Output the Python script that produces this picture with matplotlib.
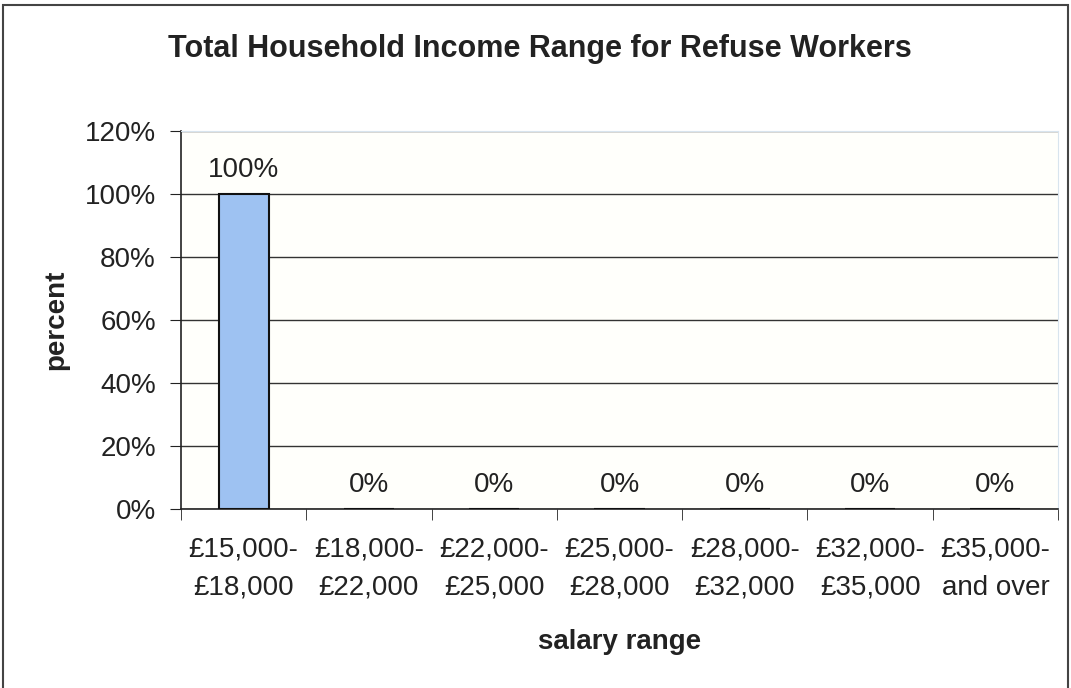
import matplotlib.pyplot as plt
import matplotlib.patches as patches

plt.rcParams['font.family'] = ['Liberation Sans', 'DejaVu Sans']

salary_ranges = ["£15,000-\n£18,000", "£18,000-\n£22,000", "£22,000-\n£25,000",
                 "£25,000-\n£28,000", "£28,000-\n£32,000", "£32,000-\n£35,000",
                 "£35,000-\nand over"]
percent = [100, 0, 0, 0, 0, 0, 0]
y_ticks = [0, 20, 40, 60, 80, 100, 120]

fig = plt.figure(figsize=(10.71, 6.88), dpi=100)
ax = fig.add_axes([0.1690, 0.2602, 0.8189, 0.5494])

# outer frame round the whole chart
fig.patches.append(patches.Rectangle((0.003, -0.01), 0.994, 1.003, transform=fig.transFigure,
                                     fill=False, edgecolor="#444444", linewidth=1.5))

x = range(len(percent))
ax.set_facecolor("#fffffb")
ax.bar(x, percent, width=0.4, color="#9ec2f2", edgecolor="#111111", linewidth=1.5, zorder=3)

for xi, v in zip(x, percent):
    ax.annotate(f"{v}%", (xi, v), xytext=(0, 8), textcoords="offset points",
                ha="center", va="bottom", fontsize=20, color="#222222")

ax.set_xlim(-0.5, len(percent) - 0.5)
ax.set_ylim(0, 120)
ax.set_yticks(y_ticks)
ax.set_yticklabels([f"{t}%" for t in y_ticks], fontsize=20, color="#222222")
ax.grid(axis="y", color="#333333", linewidth=1, zorder=0)

ax.set_xticks(list(x))
ax.set_xticklabels(salary_ranges, fontsize=20, color="#222222", linespacing=1.6)
ax.tick_params(axis="x", length=0, pad=20)
ax.set_xticks([i - 0.5 for i in range(len(percent) + 1)], minor=True)
ax.tick_params(axis="x", which="minor", length=8, direction="out", color="#222222")
ax.tick_params(axis="y", length=8, direction="out", color="#222222", pad=10)

for side in ["top", "right"]:
    ax.spines[side].set_color("#d8e4ee")
ax.spines["left"].set_color("#222222")
ax.spines["bottom"].set_color("#222222")
ax.spines["left"].set_linewidth(1.2)
ax.spines["bottom"].set_linewidth(1.2)

fig.suptitle("Total Household Income Range for Refuse Workers", x=0.504, y=0.95,
             fontsize=22, fontweight="bold", color="#222222")
ax.set_ylabel("percent", fontsize=20, fontweight="bold", color="#222222")
ax.yaxis.set_label_coords(-0.127, 0.5)
ax.set_xlabel("salary range", fontsize=20, fontweight="bold", color="#222222", labelpad=20)

fig.savefig("out.png", dpi=100)
